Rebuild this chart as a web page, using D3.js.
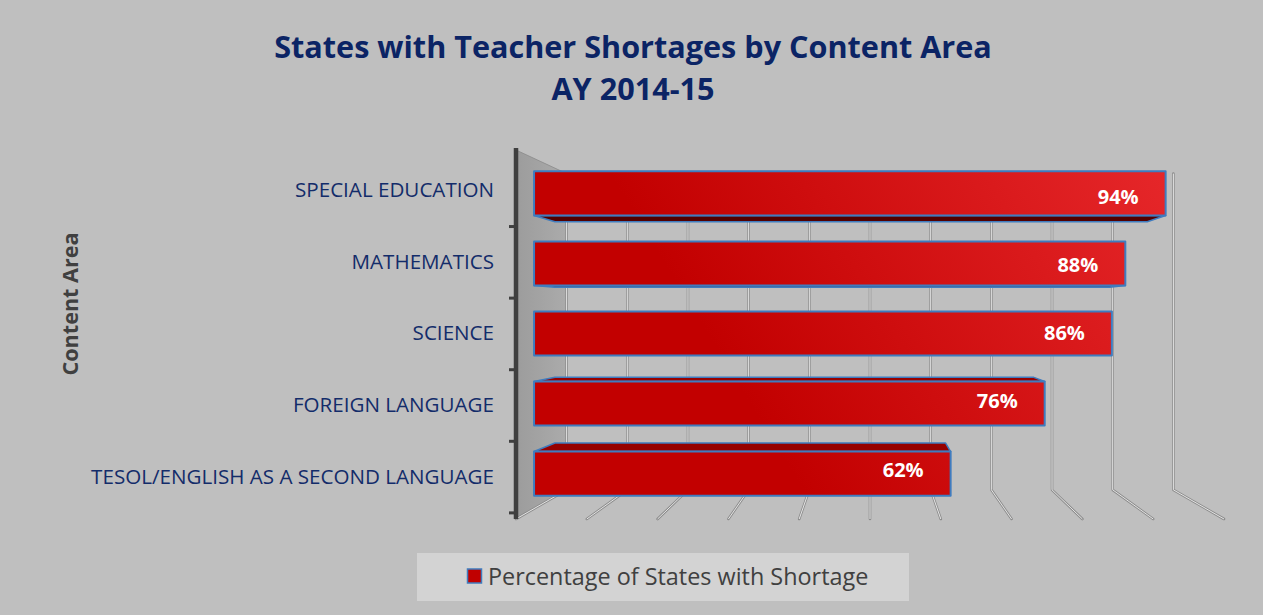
<!DOCTYPE html>
<html>
<head>
<meta charset="utf-8">
<script src="https://cdnjs.cloudflare.com/ajax/libs/d3/7.8.5/d3.min.js"></script>
<style>
  body { margin: 0; background: #bfbfbf; }
  svg { display: block; }
  text { font-family: "Open Sans", Lato, sans-serif; }
</style>
</head>
<body>
<svg id="chart" width="1263" height="615"></svg>
<script>

var categories = ["SPECIAL EDUCATION", "MATHEMATICS", "SCIENCE", "FOREIGN LANGUAGE", "TESOL/ENGLISH AS A SECOND LANGUAGE"];
var values = [0.94, 0.88, 0.86, 0.76, 0.62];
var gridTicks = [0, 0.1, 0.2, 0.3, 0.4, 0.5, 0.6, 0.7, 0.8, 0.9, 1.0];
var seriesName = "Percentage of States with Shortage";
var titleLines = ["States with Teacher Shortages by Content Area", "AY 2014-15"];
var axisTitle = "Content Area";

var svg = d3.select("#chart");

// front plane scales
var x = d3.scaleLinear().domain([0, 1]).range([516, 1224]);
var y = d3.scaleBand().domain(categories).range([150, 519])
  .paddingInner(0.37).paddingOuter(0.185);

// perspective: everything shrinks toward the vanishing point as it goes back
var vx = 870, vy = 315;
var sWall = 0.857,   // back wall
    sFront = 0.949,  // bar front faces
    sBack = 0.89,    // bar back faces
    sAxis = 0.97;    // ticks / category labels

function proj(px, py, s) {
  return [vx + s * (px - vx), vy + s * (py - vy)];
}
function poly(pts) {
  return "M" + pts.map(function(p){ return p[0] + "," + p[1]; }).join("L") + "Z";
}

var defs = svg.append("defs");
var barGrad = defs.append("linearGradient").attr("id", "barGrad")
  .attr("gradientUnits", "userSpaceOnUse")
  .attr("x1", 760).attr("y1", 420).attr("x2", 1170).attr("y2", 170);
barGrad.append("stop").attr("offset", 0).attr("stop-color", "#c20000");
barGrad.append("stop").attr("offset", 1).attr("stop-color", "#e6272a");

var wallGrad = defs.append("linearGradient").attr("id", "wallGrad")
  .attr("x1", 0).attr("y1", 0).attr("x2", 1).attr("y2", 0);
wallGrad.append("stop").attr("offset", 0).attr("stop-color", "#9c9c9c");
wallGrad.append("stop").attr("offset", 1).attr("stop-color", "#ababab");

svg.append("rect").attr("width", 1263).attr("height", 615).attr("fill", "#bfbfbf");

// side wall
var yTop = y.range()[0], yBot = y.range()[1];
svg.append("path")
  .attr("d", poly([proj(x(0), yTop, 1), proj(x(0), yTop, sWall), proj(x(0), yBot, sWall), proj(x(0), yBot, 1)]))
  .attr("fill", "url(#wallGrad)")
  .attr("stroke", "#8a8a8a").attr("stroke-width", 0.8);

// gridlines: back wall + floor
var grid = svg.append("g");
gridTicks.forEach(function(t){
  var a = proj(x(t), yTop, sWall), b = proj(x(t), yBot, sWall), c = proj(x(t), yBot, 1);
  var d = "M" + a + "L" + b + "L" + c;
  grid.append("path").attr("d", d).attr("fill", "none")
    .attr("stroke", "#8c8c8c").attr("stroke-width", 2.6).attr("stroke-linejoin", "round").attr("stroke-linecap", "round");
  grid.append("path").attr("d", d).attr("fill", "none")
    .attr("stroke", "#e4e4e4").attr("stroke-width", 1).attr("stroke-linejoin", "round");
});

// axis line and ticks
svg.append("line").attr("x1", x(0)).attr("x2", x(0)).attr("y1", yTop - 2).attr("y2", yBot)
  .attr("stroke", "#3f3f3f").attr("stroke-width", 4.5);
categories.forEach(function(c){
  var ty = proj(x(0), y(c) + y.bandwidth() + y.step() * y.paddingInner() / 2, sAxis)[1];
  svg.append("line").attr("x1", x(0) - 7).attr("x2", x(0)).attr("y1", ty).attr("y2", ty)
    .attr("stroke", "#3f3f3f").attr("stroke-width", 3);
});

// bars
var bars = svg.append("g");
categories.forEach(function(c, i){
  var v = values[i];
  var y0 = y(c), y1 = y(c) + y.bandwidth();
  var g = bars.append("g");
  if (y1 < vy) {
    // underside visible
    g.append("path")
      .attr("d", poly([proj(x(0), y1, sFront), proj(x(v), y1, sFront), proj(x(v), y1, sBack), proj(x(0), y1, sBack)]))
      .attr("fill", "#520000").attr("stroke", "#3f7cbf").attr("stroke-width", 1.5).attr("stroke-linejoin", "round");
  } else if (y0 > vy) {
    // top visible
    g.append("path")
      .attr("d", poly([proj(x(0), y0, sFront), proj(x(v), y0, sFront), proj(x(v), y0, sBack), proj(x(0), y0, sBack)]))
      .attr("fill", "#960000").attr("stroke", "#3f7cbf").attr("stroke-width", 1.5).attr("stroke-linejoin", "round");
  }
  g.append("path")
    .attr("d", poly([proj(x(0), y0, sFront), proj(x(v), y0, sFront), proj(x(v), y1, sFront), proj(x(0), y1, sFront)]))
    .attr("fill", "url(#barGrad)").attr("stroke", "#3f7cbf").attr("stroke-width", 2).attr("stroke-linejoin", "round");

  var lp = proj(x(v), (y0 + y1) / 2, 0.925);
  g.append("text")
    .attr("x", proj(x(v), y0, sFront)[0] - 27)
    .attr("y", lp[1] + 7)
    .attr("text-anchor", "end")
    .attr("fill", "#ffffff").attr("font-weight", "bold").attr("font-size", 20)
    .text(d3.format(".0%")(v));
});

// category labels
categories.forEach(function(c){
  var ly = proj(x(0), y(c) + y.bandwidth() / 2, sAxis)[1];
  svg.append("text").attr("x", 494).attr("y", ly + 6.5)
    .attr("text-anchor", "end").attr("fill", "#132c6a").attr("font-size", 20.6)
    .text(c);
});

// axis title
svg.append("text")
  .attr("transform", "translate(78,304) rotate(-90)")
  .attr("text-anchor", "middle").attr("fill", "#404040")
  .attr("font-weight", "bold").attr("font-size", 21.6)
  .text(axisTitle);

// title
svg.append("text").attr("x", 633).attr("y", 58).attr("text-anchor", "middle")
  .attr("fill", "#0b2465").attr("font-weight", "bold").attr("font-size", 30.6)
  .text(titleLines[0]);
svg.append("text").attr("x", 633).attr("y", 100).attr("text-anchor", "middle")
  .attr("fill", "#0b2465").attr("font-weight", "bold").attr("font-size", 30.6)
  .text(titleLines[1]);

// legend
var lg = svg.append("g");
lg.append("rect").attr("x", 417).attr("y", 553).attr("width", 492).attr("height", 48).attr("fill", "#d3d3d3");
lg.append("rect").attr("x", 467.5).attr("y", 569).attr("width", 14).attr("height", 14)
  .attr("fill", "#c00000").attr("stroke", "#3f7cbf").attr("stroke-width", 1.5);
lg.append("text").attr("x", 488).attr("y", 584.5).attr("fill", "#404040").attr("font-size", 23.4)
  .text(seriesName);

</script>
</body>
</html>
